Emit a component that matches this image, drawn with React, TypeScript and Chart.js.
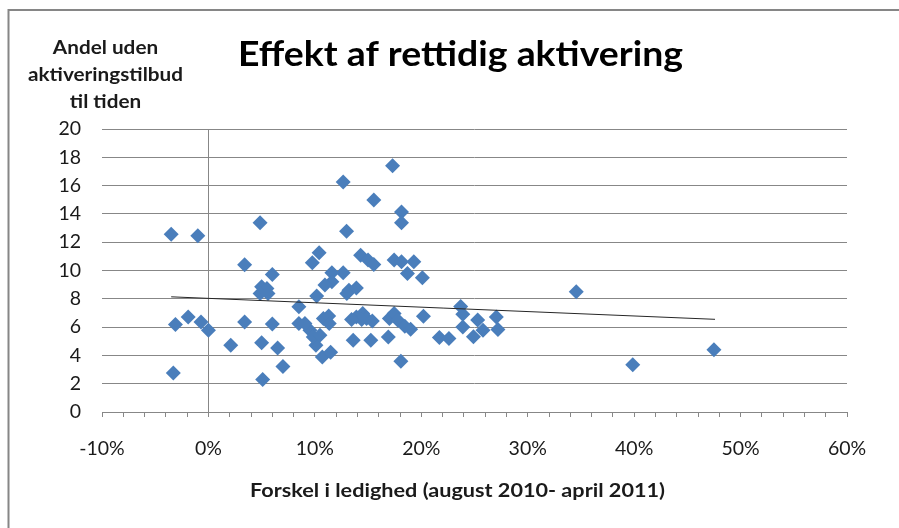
import React, { useEffect, useRef } from "react";
import { Chart, registerables } from "chart.js";

Chart.register(...registerables);

const chartTitle = "Effekt af rettidig aktivering";
const yTitleLines = ["Andel uden", "aktiveringstilbud", "til tiden"];
const xTitle = "Forskel i ledighed (august 2010- april 2011)";

// x = change in unemployment (%), y = share without activation offer on time
const xValues = [
  -3.5, -1.0, 4.85, 3.4, 6.0, 5.0, 5.5, 4.85, 5.6, -3.1,
  -1.9, -0.7, 0.0, 3.4, 6.0, 2.1, 5.0, 6.5, 7.0, -3.3,
  5.1, 8.5, 8.5, 17.3, 12.66, 15.54, 18.14, 18.14, 12.98, 10.4,
  9.76, 14.3, 15.0, 15.54, 17.45, 18.14, 19.3, 18.7, 20.1, 12.66,
  11.6, 11.6, 10.95, 13.2, 13.9, 13.0, 10.17, 23.7, 23.9, 20.2,
  10.8, 11.3, 11.35, 13.9, 14.5, 14.86, 15.4, 17.0, 17.45, 17.8,
  18.45, 19.0, 23.9, 25.3, 24.9, 13.6, 15.26, 16.9, 21.7, 22.6,
  10.1, 10.7, 11.48, 18.08, 9.54, 9.07, 9.85, 10.48, 14.4, 13.45,
  34.56, 39.87, 47.5, 25.8, 27.05, 27.2,
];
const yValues = [
  12.56, 12.46, 13.38, 10.4, 9.72, 8.85, 8.73, 8.38, 8.38, 6.18,
  6.72, 6.36, 5.78, 6.36, 6.22, 4.71, 4.9, 4.52, 3.22, 2.75,
  2.3, 7.43, 6.25, 17.4, 16.26, 14.99, 14.14, 13.38, 12.77, 11.25,
  10.55, 11.07, 10.74, 10.43, 10.74, 10.62, 10.62, 9.79, 9.48, 9.84,
  9.84, 9.2, 8.97, 8.61, 8.77, 8.38, 8.19, 7.45, 6.9, 6.77,
  6.6, 6.79, 6.25, 6.72, 6.96, 6.6, 6.43, 6.6, 6.96, 6.48,
  6.06, 5.85, 6.0, 6.5, 5.32, 5.07, 5.07, 5.3, 5.26, 5.19,
  4.71, 3.88, 4.22, 3.58, 5.78, 6.25, 5.3, 5.42, 6.53, 6.53,
  8.49, 3.34, 4.4, 5.78, 6.72, 5.83,
];

// linear trend line endpoints
const trendX = [-3.5, 47.6];
const trendY = [8.14, 6.55];

const xMin = -10;
const xMax = 60;
const yMin = 0;
const yMax = 20;

const FONT = "Lato, 'Open Sans', sans-serif";
const GRID = "#878787";
const TEXT = "#1a1a1a";

function fitText(ctx: any, text: string, cx: number, cy: number, width: number) {
  const w = ctx.measureText(text).width;
  const sx = w > 0 ? width / w : 1;
  ctx.save();
  ctx.translate(cx, cy);
  ctx.scale(sx, 1);
  ctx.fillText(text, 0, 0);
  ctx.restore();
}

const textPlugin = {
  id: "textPlugin",
  beforeDraw(chart: any) {
    const ctx = chart.ctx;
    ctx.save();
    ctx.strokeStyle = "#868686";
    ctx.lineWidth = 2;
    ctx.beginPath();
    ctx.moveTo(8.5, 540);
    ctx.lineTo(8.5, 10);
    ctx.lineTo(905, 10);
    ctx.stroke();
    ctx.restore();
  },
  afterDraw(chart: any) {
    const ctx = chart.ctx;
    ctx.save();
    ctx.fillStyle = "#000";
    ctx.textAlign = "center";
    ctx.textBaseline = "alphabetic";
    ctx.font = `bold 34px ${FONT}`;
    fitText(ctx, chartTitle, 460.5, 65.5, 445);

    ctx.fillStyle = TEXT;
    ctx.font = `bold 18px ${FONT}`;
    ctx.textBaseline = "middle";
    yTitleLines.forEach((line, i) => {
      const w = ctx.measureText(line).width * (155 / ctx.measureText(yTitleLines[1]).width);
      fitText(ctx, line, 105.5, 48 + i * 27, w);
    });
    ctx.font = `bold 19px ${FONT}`;
    fitText(ctx, xTitle, 457.5, 491, 415);
    ctx.restore();
  },
};

export default function App() {
  const ref = useRef<HTMLCanvasElement | null>(null);

  useEffect(() => {
    if (!ref.current) return;
    const points = xValues.map((x, i) => ({ x, y: yValues[i] }));
    const trend = trendX.map((x, i) => ({ x, y: trendY[i] }));
    const chart = new Chart(ref.current, {
      type: "scatter",
      data: {
        datasets: [
          {
            label: "Trend",
            data: trend,
            showLine: true,
            borderColor: "#262626",
            borderWidth: 1,
            pointRadius: 0,
            order: 0,
          } as any,
          {
            label: "Kommuner",
            data: points,
            pointStyle: "rectRot",
            pointRadius: 7.5,
            backgroundColor: "#4A7EBB",
            borderColor: "#4A7EBB",
            borderWidth: 0,
            order: 1,
          } as any,
        ],
      },
      options: {
        animation: false,
        responsive: false,
        devicePixelRatio: 1,
        layout: { padding: { top: 129, left: 0, right: 52, bottom: 0 } },
        plugins: {
          legend: { display: false },
          title: { display: false },
          tooltip: { enabled: false },
        },
        scales: {
          x: {
            type: "linear",
            min: xMin,
            max: xMax,
            afterFit: (s: any) => {
              s.height = 116;
            },
            ticks: {
              stepSize: 2,
              autoSkip: false,
              maxRotation: 0,
              padding: 20,
              color: TEXT,
              font: { family: FONT, size: 19.5 },
              callback: (v: any) => {
                const r = Math.round(Number(v));
                return r % 10 === 0 ? `${r}%` : "";
              },
            },
            grid: {
              color: (c: any) =>
                c.tick && Math.round(c.tick.value) === 0 ? GRID : "rgba(0,0,0,0)",
              tickColor: GRID,
              tickLength: 5,
              lineWidth: 1,
            },
            border: { display: true, color: GRID, width: 1 },
          },
          y: {
            type: "linear",
            min: yMin,
            max: yMax,
            afterFit: (s: any) => {
              s.width = 102;
            },
            ticks: {
              stepSize: 2,
              padding: 21,
              color: TEXT,
              font: { family: FONT, size: 19.5 },
            },
            grid: {
              color: GRID,
              drawTicks: false,
              lineWidth: 1,
            },
            border: { display: false },
          },
        },
      } as any,
      plugins: [textPlugin],
    });
    return () => chart.destroy();
  }, []);

  return (
    <div style={{ position: "absolute", left: 0, top: 0, width: 899, height: 528 }}>
      <canvas ref={ref} width={899} height={528} style={{ display: "block" }} />
    </div>
  );
}
